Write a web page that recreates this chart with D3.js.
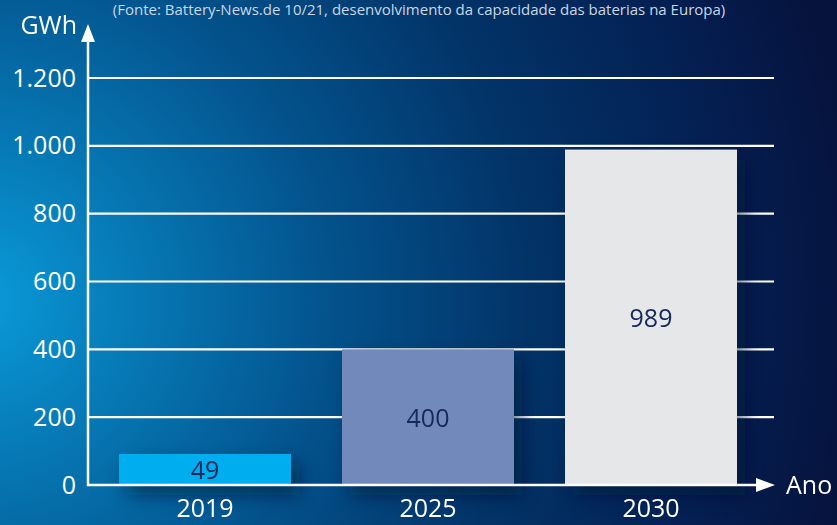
<!DOCTYPE html>
<html>
<head>
<meta charset="utf-8">
<script src="https://cdn.jsdelivr.net/npm/d3@7"></script>
<style>
  html, body { margin: 0; padding: 0; background: #04204f; }
  svg { display: block; font-family: "Open Sans", sans-serif; }
</style>
</head>
<body>
<script>
var years = ["2019", "2025", "2030"];
var capacity = [49, 400, 989];
var barColors = ["#00aeef", "#728abb", "#e6e7e9"];
var yTicks = [0, 200, 400, 600, 800, 1000, 1200];
var subtitle = "(Fonte: Battery-News.de 10/21, desenvolvimento da capacidade das baterias na Europa)";

var WIDTH = 837;
var HEIGHT = 525;
var X0 = 88;        // y axis position
var Y0 = 485;       // x axis position
var MINBAR = 31;    // smallest bar drawn, in px

var translate = function (x, y) {
  return "translate(" + x + "," + y + ")";
}

var fmt = function (d) {
  return d3.format(",")(d).replace(/,/g, ".");
}

var yScale = d3.scaleLinear()
  .domain([0, 1200])
  .range([Y0, 78]);

var xScale = d3.scaleBand()
  .domain(years)
  .range([93.5, 762.5])
  .paddingInner(0.2287)
  .paddingOuter(0.1143);

var drawChart = function () {
  var svg = d3.select("body").append("svg")
    .attr("width", WIDTH)
    .attr("height", HEIGHT);

  var defs = svg.append("defs");
  var grad = defs.append("radialGradient")
    .attr("id", "bg")
    .attr("gradientUnits", "userSpaceOnUse")
    .attr("cx", -20).attr("cy", 300).attr("r", 880);
  [[0, "#0a9ad9"], [0.18, "#0679b5"], [0.4, "#03528c"], [0.62, "#023468"], [0.85, "#041f52"], [1, "#06133d"]]
    .forEach(function (s) {
      grad.append("stop").attr("offset", s[0]).attr("stop-color", s[1]);
    });

  var blur = defs.append("filter").attr("id", "shadow")
    .attr("x", "-30%").attr("y", "-30%").attr("width", "160%").attr("height", "160%");
  blur.append("feGaussianBlur").attr("stdDeviation", 9);

  svg.append("rect")
    .attr("width", WIDTH).attr("height", HEIGHT)
    .attr("fill", "url(#bg)");

  // subtitle
  svg.append("text")
    .attr("x", 419).attr("y", 15)
    .attr("text-anchor", "middle")
    .attr("fill", "#c9d6e6")
    .style("font-size", "15px")
    .text(subtitle);

  // gridlines
  svg.append("g").selectAll("line")
    .data(yTicks.filter(function (d) { return d > 0; }))
    .enter()
    .append("line")
    .attr("x1", X0).attr("x2", 774)
    .attr("y1", function (d) { return yScale(d); })
    .attr("y2", function (d) { return yScale(d); })
    .attr("stroke", "#ffffff")
    .attr("stroke-width", 2.2);

  var barH = function (d) {
    return Math.max(MINBAR, Y0 - yScale(d));
  }

  // shadows
  svg.append("g").attr("filter", "url(#shadow)").selectAll("rect")
    .data(capacity)
    .enter()
    .append("rect")
    .attr("x", function (d, i) { return xScale(years[i]) + 8; })
    .attr("y", function (d) { return Y0 - barH(d) + 10; })
    .attr("width", xScale.bandwidth())
    .attr("height", function (d) { return barH(d); })
    .attr("fill", "#0a1230")
    .attr("opacity", 0.55);

  // bars
  svg.append("g").selectAll("rect")
    .data(capacity)
    .enter()
    .append("rect")
    .attr("x", function (d, i) { return xScale(years[i]); })
    .attr("y", function (d) { return Y0 - barH(d); })
    .attr("width", xScale.bandwidth())
    .attr("height", function (d) { return barH(d); })
    .attr("fill", function (d, i) { return barColors[i]; });

  // value labels
  svg.append("g").selectAll("text")
    .data(capacity)
    .enter()
    .append("text")
    .attr("x", function (d, i) { return xScale(years[i]) + xScale.bandwidth() / 2; })
    .attr("y", function (d) { return Y0 - barH(d) / 2 + 1; })
    .attr("dy", "0.35em")
    .attr("text-anchor", "middle")
    .attr("fill", "#17285a")
    .style("font-size", "25px")
    .text(function (d) { return d; });

  // y axis
  var yAxis = d3.axisLeft(yScale)
    .tickValues(yTicks)
    .tickFormat(fmt)
    .tickSize(0)
    .tickPadding(12);

  var gy = svg.append("g")
    .attr("transform", translate(X0, 0))
    .call(yAxis);
  gy.select(".domain").remove();
  gy.selectAll("text")
    .attr("fill", "#ffffff")
    .style("font-family", "'Open Sans', sans-serif")
    .style("font-size", "25px");

  // x axis
  var xAxis = d3.axisBottom(xScale).tickSize(0).tickPadding(14);
  var gx = svg.append("g")
    .attr("transform", translate(0, Y0))
    .call(xAxis);
  gx.select(".domain").remove();
  gx.selectAll("text")
    .attr("fill", "#ffffff")
    .attr("dy", "0.71em")
    .style("font-family", "'Open Sans', sans-serif")
    .style("font-size", "25px");

  // axis lines with arrows
  svg.append("line")
    .attr("x1", X0).attr("x2", X0)
    .attr("y1", Y0 + 1).attr("y2", 40)
    .attr("stroke", "#ffffff").attr("stroke-width", 2.5);
  svg.append("path")
    .attr("d", "M" + (X0 - 7) + ",42L" + X0 + ",24L" + (X0 + 7) + ",42Z")
    .attr("fill", "#ffffff");

  svg.append("line")
    .attr("x1", X0 - 1).attr("x2", 758)
    .attr("y1", Y0).attr("y2", Y0)
    .attr("stroke", "#ffffff").attr("stroke-width", 2.5);
  svg.append("path")
    .attr("d", "M756," + (Y0 - 7) + "L775," + Y0 + "L756," + (Y0 + 7) + "Z")
    .attr("fill", "#ffffff");

  svg.append("text")
    .attr("x", 77).attr("y", 34)
    .attr("text-anchor", "end")
    .attr("fill", "#ffffff")
    .style("font-size", "25px")
    .text("GWh");

  svg.append("text")
    .attr("x", 786).attr("y", 494)
    .attr("fill", "#ffffff")
    .style("font-size", "25px")
    .text("Ano");
}

window.onload = drawChart;
</script>
</body>
</html>
